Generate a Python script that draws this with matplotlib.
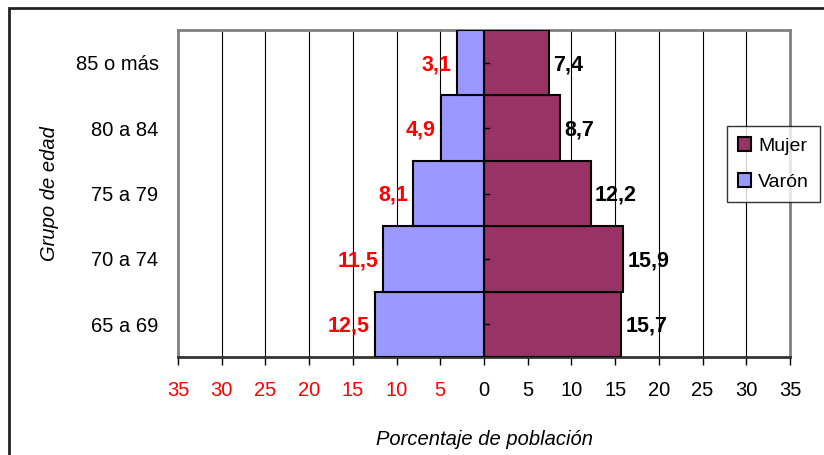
import matplotlib.pyplot as plt
from matplotlib.patches import Rectangle

grupos = ["65 a 69", "70 a 74", "75 a 79", "80 a 84", "85 o más"]
varon = [12.5, 11.5, 8.1, 4.9, 3.1]
mujer = [15.7, 15.9, 12.2, 8.7, 7.4]
ticks = list(range(-35, 40, 5))
tick_labels = [str(abs(t)) for t in ticks]

plt.rcParams["font.family"] = ["Liberation Sans", "DejaVu Sans"]

fig = plt.figure(figsize=(8.24, 4.55), dpi=100)
ax = fig.add_axes([178 / 824, 1 - 357 / 455, (790 - 178) / 824, (357 - 30) / 455])

# outer frame (right and bottom fall outside the image)
fig.patches.append(Rectangle((9 / 824, -0.1), 1.1, (455 - 8) / 455 + 0.1,
                             transform=fig.transFigure, fill=False,
                             edgecolor="#222222", linewidth=2))

y = range(len(grupos))
ax.barh(y, mujer, height=1.0, color="#993366", edgecolor="black", linewidth=1.5,
        label="Mujer", zorder=3)
ax.barh(y, [-v for v in varon], height=1.0, color="#9999FF", edgecolor="black",
        linewidth=1.5, label="Varón", zorder=3)

for i, v in enumerate(varon):
    ax.text(-v - 0.6, i - 0.03, f"{v}".replace(".", ","), color="red", fontsize=15.5,
            fontweight="bold", ha="right", va="center")
for i, v in enumerate(mujer):
    ax.text(v + 0.5, i - 0.03, f"{v}".replace(".", ","), color="black", fontsize=15.5,
            fontweight="bold", ha="left", va="center")

ax.set_xlim(-35, 35)
ax.set_ylim(-0.5, 4.5)
ax.set_xticks(ticks)
ax.set_xticklabels(tick_labels, fontsize=14.5)
for lab, t in zip(ax.get_xticklabels(), ticks):
    lab.set_color("red" if t < 0 else "black")
ax.set_yticks(list(y))
ax.set_yticklabels(grupos, fontsize=14.5)
ax.tick_params(axis="y", length=0, pad=14)
ax.tick_params(axis="x", direction="out", length=6, width=1, pad=11)

for t in ticks[1:-1]:
    ax.axvline(t, color="black", linewidth=0.8, zorder=1)
ax.axvline(0, color="black", linewidth=1.5, zorder=4)
for yy in y:
    ax.plot([0, 0.6], [yy, yy], color="black", linewidth=1, zorder=4)

for s in ["left", "right", "top"]:
    ax.spines[s].set_color("#808080")
    ax.spines[s].set_linewidth(2)
ax.spines["bottom"].set_color("#333333")
ax.spines["bottom"].set_linewidth(2)

ax.set_xlabel("Porcentaje de población", fontsize=14.5, style="italic", labelpad=22)
ax.set_ylabel("Grupo de edad", fontsize=14.5, style="italic", labelpad=12)

handles, labels = ax.get_legend_handles_labels()
leg = ax.legend(handles, labels, loc="upper left", bbox_to_anchor=(0.897, 0.705),
                fontsize=14, frameon=True, fancybox=False, handlelength=0.7,
                handleheight=0.7, handletextpad=0.35, labelspacing=0.95,
                borderpad=0.55, borderaxespad=0)
leg.get_frame().set_edgecolor("black")
leg.get_frame().set_linewidth(1)

fig.savefig("out.png", dpi=100)
